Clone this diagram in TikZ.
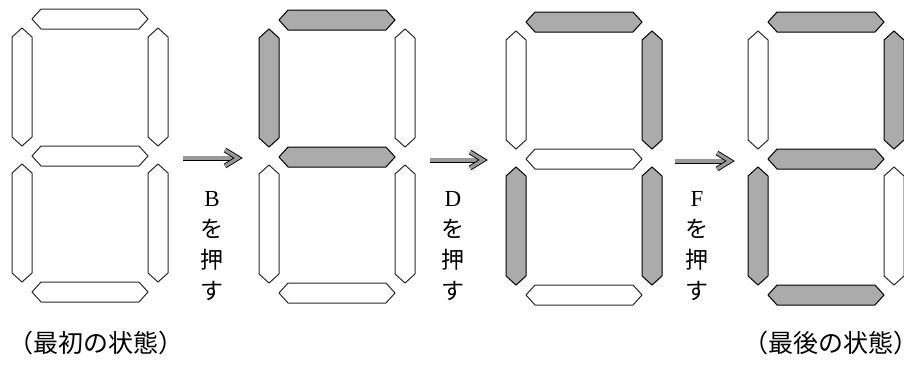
\documentclass[tikz,border=0pt]{standalone}
\usepackage{fontspec}
\setmainfont{Liberation Serif}
\newfontfamily\jpfont{Noto Sans CJK JP}
\usetikzlibrary{arrows.meta}
\definecolor{SegLit}{HTML}{ABABAB}
\definecolor{SegLine}{HTML}{2A2A2A}
\tikzset{x=1pt,y=-1pt,
 seg/.style={draw=SegLine,line width=1pt,fill=white,line join=miter},
 lit/.style={fill=SegLit,draw=black},
 unlit/.style={},
 hseg/.pic={\draw[seg,#1] (-58,0)--(-49,-10)--(49,-10)--(58,0)--(49,10)--(-49,10)--cycle;},
 vseg/.pic={\draw[seg,#1] (0,-59)--(10,-50)--(10,50)--(0,59)--(-10,50)--(-10,-50)--cycle;},
 pusharrow/.style={double=black!40,double distance=3.2pt,line width=0.9pt,line join=miter,line cap=butt},
 presslabel/.style={align=center,inner sep=0pt,font=\fontsize{23}{31}\selectfont},
 caption/.style={anchor=west,inner sep=0pt,font=\jpfont\fontsize{25}{25}\selectfont}}
% one digit: x, y, then segments a b c d e f g
\newcommand{\sevenseg}[9]{%
 \begin{scope}[shift={(#1,#2)}]
 \pic at (79,10) {hseg=#3};
 \pic at (147,78) {vseg=#4};
 \pic at (147,214) {vseg=#5};
 \pic at (79,283) {hseg=#6};
 \pic at (11,214) {vseg=#7};
 \pic at (11,78) {vseg=#8};
 \pic at (79,147) {hseg=#9};
 \end{scope}}

\begin{document}
\begin{tikzpicture}
\useasboundingbox (0,0) rectangle (904,367);
\sevenseg{11}{9}{unlit}{unlit}{unlit}{unlit}{unlit}{unlit}{unlit}
\sevenseg{258}{10}{lit}{unlit}{unlit}{unlit}{unlit}{lit}{lit}
\sevenseg{505}{12}{lit}{lit}{lit}{unlit}{lit}{unlit}{unlit}
\sevenseg{747}{12}{lit}{lit}{unlit}{lit}{lit}{unlit}{lit}
% arrows between the digits
\foreach \i/\xs/\xe/\y in {1/183/238/158,2/430/483/160,3/675/730/161}{
 \coordinate (a\i s) at (\xs,\y);
 \coordinate (a\i e) at (\xe,\y);
 \draw[pusharrow] (a\i s)--([xshift=-3pt]a\i e);
 \draw[pusharrow] ([xshift=-13pt,yshift=-8pt]a\i e)--(a\i e)--([xshift=-13pt,yshift=8pt]a\i e);
}
\node[presslabel] (pressB) at (212,246) {B\\{\jpfont を}\\{\jpfont 押}\\{\jpfont す}};
\node[presslabel] (pressD) at (453,246) {D\\{\jpfont を}\\{\jpfont 押}\\{\jpfont す}};
\node[presslabel] (pressF) at (697,246) {F\\{\jpfont を}\\{\jpfont 押}\\{\jpfont す}};
\node[caption] (first) at (8,343) {（最初の状態）};
\node[caption] (last) at (743,343) {（最後の状態）};
\end{tikzpicture}
\end{document}
